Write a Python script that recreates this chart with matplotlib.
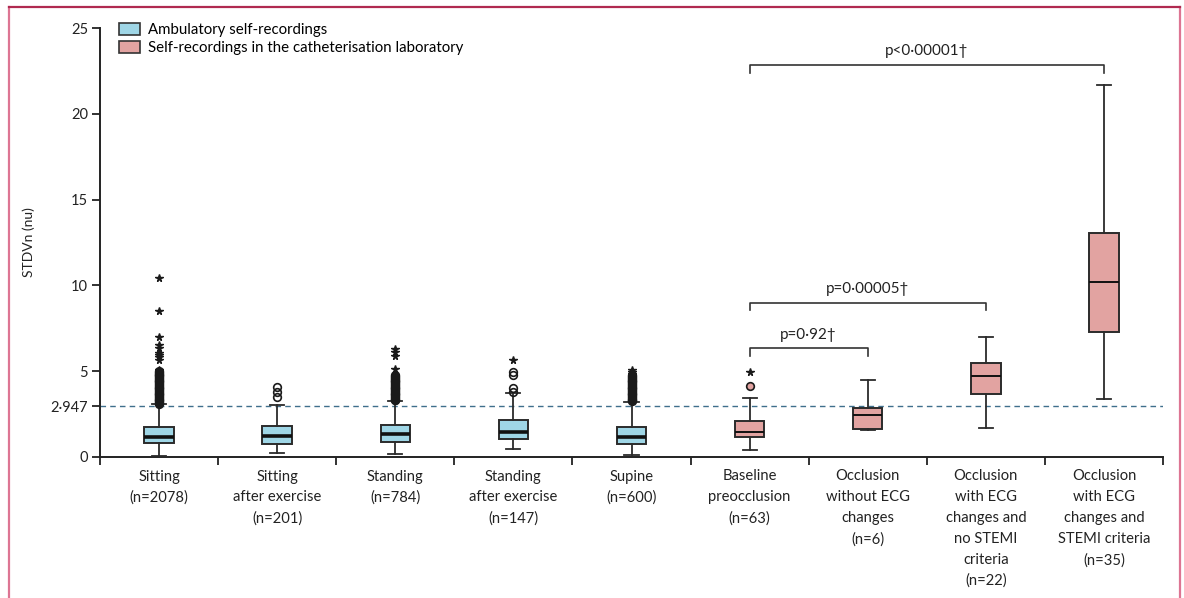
import matplotlib.pyplot as plt
from matplotlib.patches import Patch
from matplotlib.lines import Line2D

plt.rcParams['font.family'] = ['Lato', 'DejaVu Sans']
plt.rcParams['font.size'] = 10

# groups and box statistics (STDVn, nu)
labels = ["Sitting\n(n=2078)", "Sitting\nafter exercise\n(n=201)", "Standing\n(n=784)",
          "Standing\nafter exercise\n(n=147)", "Supine\n(n=600)",
          "Baseline\npreocclusion\n(n=63)", "Occlusion\nwithout ECG\nchanges\n(n=6)",
          "Occlusion\nwith ECG\nchanges and\nno STEMI\ncriteria\n(n=22)",
          "Occlusion\nwith ECG\nchanges and\nSTEMI criteria\n(n=35)"]
q1 = [0.80, 0.78, 0.86, 1.03, 0.78, 1.15, 1.63, 3.65, 7.30]
med = [1.18, 1.24, 1.34, 1.48, 1.17, 1.48, 2.47, 4.74, 10.18]
q3 = [1.73, 1.81, 1.86, 2.14, 1.75, 2.10, 2.87, 5.46, 13.07]
whislo = [0.06, 0.21, 0.17, 0.49, 0.10, 0.39, 1.57, 1.71, 3.38]
whishi = [3.07, 3.03, 3.26, 3.71, 3.19, 3.42, 4.49, 7.01, 21.68]
ambulatory = [True, True, True, True, True, False, False, False, False]

# outliers: circles (mild) and stars (extreme)
circles = [
    [3.1, 3.15, 3.2, 3.25, 3.3, 3.35, 3.4, 3.45, 3.5, 3.55, 3.6, 3.65, 3.7, 3.75, 3.8, 3.85, 3.9,
     3.95, 4.0, 4.05, 4.1, 4.15, 4.2, 4.25, 4.3, 4.35, 4.4, 4.45, 4.5, 4.55, 4.6, 4.65, 4.7,
     4.75, 4.8, 4.85, 4.9, 4.95, 5.0],
    [3.52, 3.81, 4.10],
    [3.3, 3.35, 3.4, 3.45, 3.5, 3.55, 3.6, 3.65, 3.7, 3.75, 3.8, 3.85, 3.9, 3.95, 4.0, 4.05,
     4.1, 4.15, 4.2, 4.25, 4.3, 4.35, 4.4, 4.45, 4.5, 4.55, 4.6, 4.65, 4.7, 4.75],
    [3.81, 4.00, 4.78, 4.97],
    [3.25, 3.3, 3.35, 3.4, 3.45, 3.5, 3.55, 3.6, 3.65, 3.7, 3.75, 3.8, 3.85, 3.9, 3.95, 4.0,
     4.05, 4.1, 4.15, 4.2, 4.25, 4.3, 4.35, 4.4, 4.45, 4.5, 4.55, 4.6, 4.65, 4.7, 4.75],
    [4.14],
    [], [], [],
]
stars = [
    [5.07, 5.65, 5.8, 5.95, 6.05, 6.33, 6.53, 7.01, 8.5, 10.41],
    [],
    [5.15, 5.9, 6.1, 6.3],
    [5.65],
    [4.85, 4.95, 5.05],
    [4.94],
    [], [], [],
]

threshold = 2.947
comparisons = [(6, 7, 6.33, "p=0·92†"), (6, 8, 8.99, "p=0·00005†"), (6, 9, 22.84, "p<0·00001†")]

blue = "#9fd6e6"
pink = "#e2a3a1"
edge = "#2b2b2b"

fig = plt.figure(figsize=(11.84, 5.98), dpi=100)
ax = fig.add_axes([100 / 1184, 1 - 457 / 598, 1063 / 1184, 429 / 598])

ax.axhline(threshold, color="#3f6f8c", lw=1.0, ls=(0, (4, 3)), zorder=1)

positions = list(range(1, len(labels) + 1))
for i, p in enumerate(positions):
    stat = dict(med=med[i], q1=q1[i], q3=q3[i], whislo=whislo[i], whishi=whishi[i], fliers=[])
    fc = blue if ambulatory[i] else pink
    mlw = 2.6 if ambulatory[i] else 1.4
    ax.bxp([stat], positions=[p], widths=0.25, patch_artist=True, showfliers=False,
           boxprops=dict(facecolor=fc, edgecolor=edge, lw=1.4),
           medianprops=dict(color="#111111", lw=mlw),
           whiskerprops=dict(color=edge, lw=1.3),
           capprops=dict(color=edge, lw=1.3), capwidths=0.12, zorder=3)
    if circles[i]:
        ax.plot([p] * len(circles[i]), circles[i], ls="none", marker="o", ms=5.5,
                mfc="none" if ambulatory[i] else fc, mec="#1a1a1a", mew=1.2, zorder=4)
    if stars[i]:
        ax.plot([p] * len(stars[i]), stars[i], ls="none", marker="*", ms=5.5,
                color="#1a1a1a", zorder=4)

# significance brackets
for a, b, y, txt in comparisons:
    ax.plot([a, a, b, b], [y - 0.45, y, y, y - 0.45], color="#333333", lw=1.2, clip_on=False)
    ax.text((a + b) / 2, y + 0.4, txt, ha="center", va="bottom", fontsize=11, color="#222222")

ax.set_xlim(0.5, 9.5)
ax.set_ylim(0, 25)
ax.set_xticks(positions)
ax.set_xticklabels(labels, linespacing=1.62, va="top")
ax.set_xticks([x + 0.5 for x in range(0, 10)], minor=True)
ax.tick_params(axis="x", which="major", length=0, pad=9, labelsize=10.6, colors="#222222")
ax.tick_params(axis="x", which="minor", length=5.5, width=1.3, direction="out", color="#222222")
ax.set_yticks([0, threshold, 5, 10, 15, 20, 25])
ax.set_yticklabels(["0", "2·947", "5", "10", "15", "20", "25"])
ax.tick_params(axis="y", length=5.5, width=1.3, pad=3, labelsize=10.5, colors="#222222")
for s in ["top", "right"]:
    ax.spines[s].set_visible(False)
for s in ["left", "bottom"]:
    ax.spines[s].set_linewidth(1.4)
    ax.spines[s].set_color("#222222")

ax.set_ylabel("STDVn (nu)", fontsize=10, color="#222222")
ax.yaxis.set_label_coords(-0.061, 0.5)

handles = [Patch(facecolor=blue, edgecolor="#333333", lw=1.2, label="Ambulatory self-recordings"),
           Patch(facecolor=pink, edgecolor="#333333", lw=1.2, label="Self-recordings in the catheterisation laboratory")]
ax.legend(handles=handles, loc="upper left", bbox_to_anchor=(0.018, 1.012), frameon=False,
          fontsize=10.8, handlelength=1.4, handleheight=0.9, handletextpad=0.5,
          labelspacing=0.25, borderpad=0, borderaxespad=0)

# page frame
fig.add_artist(Line2D([9 / 1184, 9 / 1184], [0, 1 - 7 / 598], color="#dd7593", lw=1.6))
fig.add_artist(Line2D([1180 / 1184, 1180 / 1184], [0, 1 - 7 / 598], color="#dd7593", lw=1.6))
fig.add_artist(Line2D([9 / 1184, 1180 / 1184], [1 - 7 / 598, 1 - 7 / 598], color="#b02a50", lw=1.6))

fig.savefig("out.png", dpi=100)
